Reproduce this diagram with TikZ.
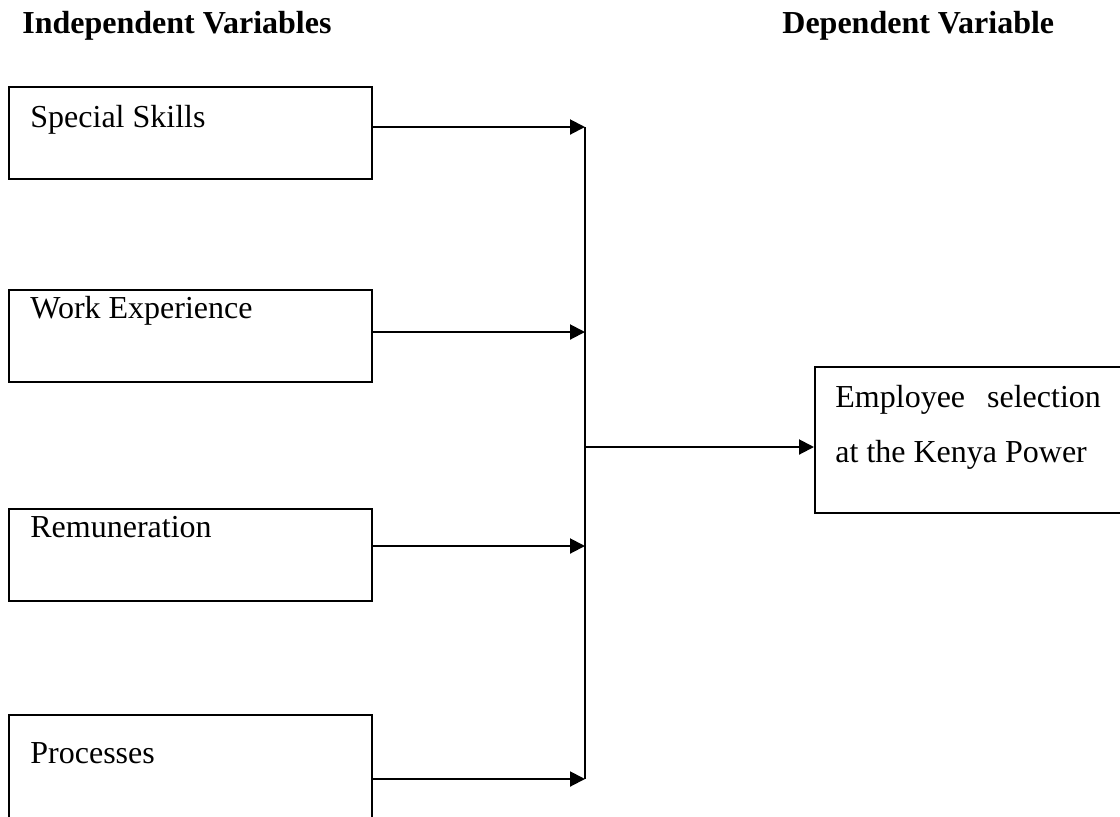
\documentclass[tikz,border=0pt]{standalone}
\usepackage{fontspec}
\setmainfont{Liberation Serif}
\usetikzlibrary{arrows.meta}
\begin{document}
\begin{tikzpicture}[x=0.5pt,y=-0.5pt,
  varbox/.style={draw,line width=0.8pt,rectangle,minimum width=181.5pt,minimum height=46pt,inner sep=0pt,anchor=north west},
  boxtext/.style={anchor=base west,inner sep=0pt,font=\fontsize{16pt}{19pt}\selectfont},
  headtext/.style={anchor=base west,inner sep=0pt,font=\fontsize{16pt}{19pt}\selectfont\bfseries},
  conn/.style={line width=1pt,-{Triangle[length=7.5pt,width=7.5pt]}},
  trunk/.style={line width=0.8pt}]
\useasboundingbox (0,0) rectangle (1120,816);
% headings
\node[headtext] (h1) at (22,33) {Independent Variables};
\node[headtext] (h2) at (782,33) {Dependent Variable};
% boxes
\node[varbox] (b1) at (8,86) {};
\node[varbox] (b2) at (8,289) {};
\node[varbox] (b3) at (8,508) {};
\node[varbox,minimum height=60pt] (b4) at (8,714) {};
\node[boxtext] (t1) at (30,127) {Special Skills};
\node[boxtext] (t2) at (30,318) {Work Experience};
\node[boxtext] (t3) at (30,537) {Remuneration};
\node[boxtext] (t4) at (30,763) {Processes};
% right box
\node[draw,line width=0.8pt,rectangle,anchor=north west,minimum width=154pt,minimum height=73pt,inner sep=0pt] (rb) at (814,366) {};
\node[boxtext] (r1) at (835,407) {Employee\hspace{11pt}selection};
\node[boxtext] (r2) at (835,462) {at the Kenya Power};
% junctions on trunk
\coordinate (j1) at (585,127);
\coordinate (j2) at (585,332);
\coordinate (j3) at (585,546);
\coordinate (j4) at (585,779);
\coordinate (jm) at (585,447);
\draw[trunk] (j1) -- (j4);
\draw[conn] (j1 -| b1.east) -- (j1);
\draw[conn] (j2 -| b2.east) -- (j2);
\draw[conn] (j3 -| b3.east) -- (j3);
\draw[conn] (j4 -| b4.east) -- (j4);
\draw[conn] (jm) -- (jm -| rb.west);
\end{tikzpicture}
\end{document}
